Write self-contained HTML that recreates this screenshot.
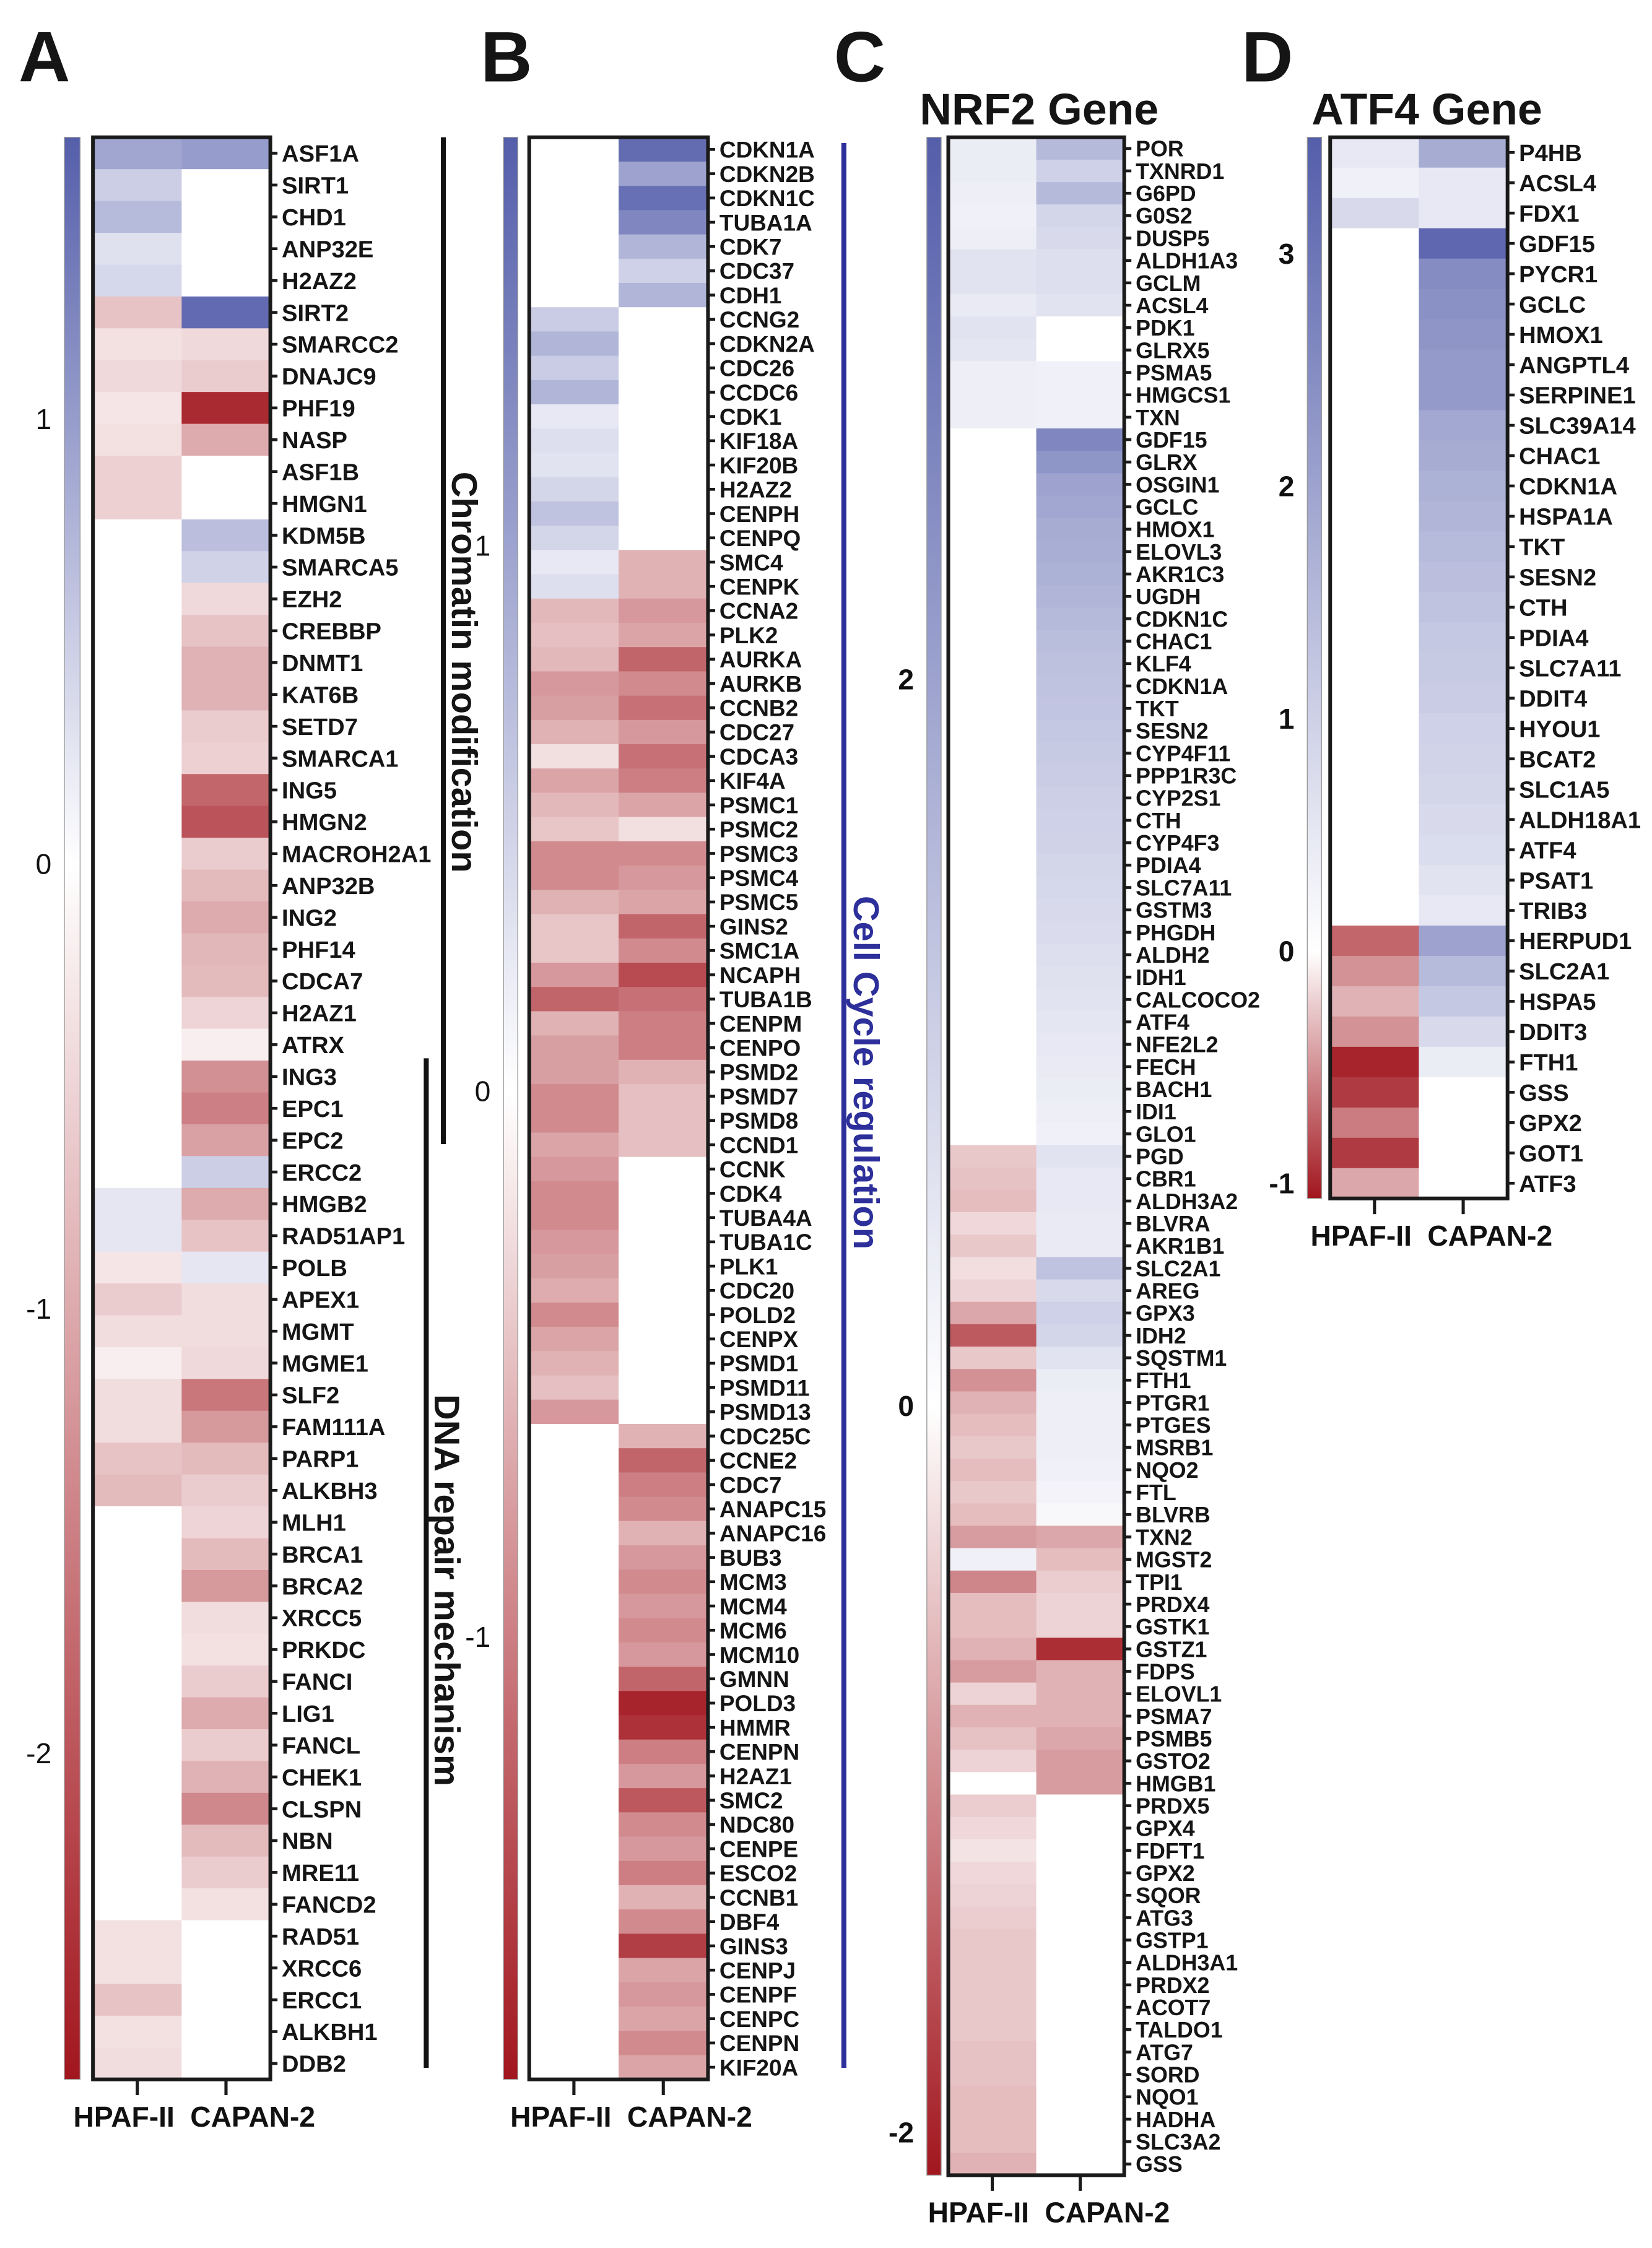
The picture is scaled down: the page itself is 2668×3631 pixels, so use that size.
<!DOCTYPE html>
<html><head><meta charset="utf-8"><style>
html,body{margin:0;padding:0;background:#fff;}
svg{display:block;}
text{font-family:"Liberation Sans",sans-serif;}
</style></head><body>
<svg id="fig" width="2668" height="3631" viewBox="0 0 1155 1571.9" xmlns="http://www.w3.org/2000/svg"></svg>
<script>
// ---------- Panel A data ----------
const genesA = ["ASF1A","SIRT1","CHD1","ANP32E","H2AZ2","SIRT2","SMARCC2","DNAJC9","PHF19","NASP","ASF1B","HMGN1","KDM5B","SMARCA5","EZH2","CREBBP","DNMT1","KAT6B","SETD7","SMARCA1","ING5","HMGN2","MACROH2A1","ANP32B","ING2","PHF14","CDCA7","H2AZ1","ATRX","ING3","EPC1","EPC2","ERCC2","HMGB2","RAD51AP1","POLB","APEX1","MGMT","MGME1","SLF2","FAM111A","PARP1","ALKBH3","MLH1","BRCA1","BRCA2","XRCC5","PRKDC","FANCI","LIG1","FANCL","CHEK1","CLSPN","NBN","MRE11","FANCD2","RAD51","XRCC6","ERCC1","ALKBH1","DDB2"];
const hpafA = [0.9,0.5,0.7,0.3,0.4,-0.7,-0.35,-0.45,-0.3,-0.35,-0.55,-0.55,null,null,null,null,null,null,null,null,null,null,null,null,null,null,null,null,null,null,null,null,null,0.25,0.25,-0.3,-0.6,-0.4,-0.2,-0.4,-0.4,-0.7,-0.8,null,null,null,null,null,null,null,null,null,null,null,null,null,-0.35,-0.35,-0.7,-0.35,-0.4];
const capanA = [1.0,null,null,null,null,1.5,-0.45,-0.6,-2.5,-1.0,null,null,0.65,0.45,-0.45,-0.7,-0.9,-0.9,-0.6,-0.55,-1.8,-2.0,-0.6,-0.8,-1.0,-0.85,-0.8,-0.5,-0.2,-1.3,-1.5,-1.1,0.5,-1.0,-0.7,0.25,-0.4,-0.4,-0.45,-1.6,-1.2,-0.8,-0.6,-0.5,-0.8,-1.2,-0.4,-0.35,-0.6,-1.0,-0.6,-0.9,-1.4,-0.8,-0.6,-0.35,null,null,null,null,null];
const ticksA = [1,0,-1,-2];
// ---------- Panel B data ----------
const genesB = ["CDKN1A","CDKN2B","CDKN1C","TUBA1A","CDK7","CDC37","CDH1","CCNG2","CDKN2A","CDC26","CCDC6","CDK1","KIF18A","KIF20B","H2AZ2","CENPH","CENPQ","SMC4","CENPK","CCNA2","PLK2","AURKA","AURKB","CCNB2","CDC27","CDCA3","KIF4A","PSMC1","PSMC2","PSMC3","PSMC4","PSMC5","GINS2","SMC1A","NCAPH","TUBA1B","CENPM","CENPO","PSMD2","PSMD7","PSMD8","CCND1","CCNK","CDK4","TUBA4A","TUBA1C","PLK1","CDC20","POLD2","CENPX","PSMD1","PSMD11","PSMD13","CDC25C","CCNE2","CDC7","ANAPC15","ANAPC16","BUB3","MCM3","MCM4","MCM6","MCM10","GMNN","POLD3","HMMR","CENPN","H2AZ1","SMC2","NDC80","CENPE","ESCO2","CCNB1","DBF4","GINS3","CENPJ","CENPF","CENPC","CENPN","KIF20A"];
const hpafB = [null,null,null,null,null,null,null,0.55,0.8,0.55,0.8,0.25,0.35,0.3,0.45,0.65,0.45,0.25,0.35,-0.55,-0.5,-0.55,-0.8,-0.75,-0.6,-0.25,-0.7,-0.55,-0.45,-0.9,-0.9,-0.6,-0.45,-0.45,-0.8,-1.2,-0.6,-0.75,-0.75,-0.9,-0.9,-0.7,-0.8,-0.9,-0.9,-0.8,-0.75,-0.65,-0.9,-0.7,-0.6,-0.5,-0.8,null,null,null,null,null,null,null,null,null,null,null,null,null,null,null,null,null,null,null,null,null,null,null,null,null,null,null];
const capanB = [1.6,1.0,1.55,1.3,0.8,0.5,0.8,null,null,null,null,null,null,null,null,null,null,-0.6,-0.6,-0.8,-0.7,-1.2,-0.9,-1.1,-0.8,-1.1,-1.0,-0.7,-0.25,-0.9,-0.8,-0.7,-1.2,-0.9,-1.4,-1.1,-1.0,-1.0,-0.6,-0.5,-0.5,-0.5,null,null,null,null,null,null,null,null,null,null,null,-0.6,-1.2,-1.0,-0.9,-0.6,-0.8,-0.9,-0.8,-0.9,-0.8,-1.2,-1.7,-1.6,-1.0,-0.8,-1.3,-0.9,-0.8,-1.0,-0.6,-0.9,-1.5,-0.7,-0.8,-0.7,-0.9,-0.7];
const ticksB = [1,0,-1];
// ---------- Panel C data ----------
const genesC = ["POR","TXNRD1","G6PD","G0S2","DUSP5","ALDH1A3","GCLM","ACSL4","PDK1","GLRX5","PSMA5","HMGCS1","TXN","GDF15","GLRX","OSGIN1","GCLC","HMOX1","ELOVL3","AKR1C3","UGDH","CDKN1C","CHAC1","KLF4","CDKN1A","TKT","SESN2","CYP4F11","PPP1R3C","CYP2S1","CTH","CYP4F3","PDIA4","SLC7A11","GSTM3","PHGDH","ALDH2","IDH1","CALCOCO2","ATF4","NFE2L2","FECH","BACH1","IDI1","GLO1","PGD","CBR1","ALDH3A2","BLVRA","AKR1B1","SLC2A1","AREG","GPX3","IDH2","SQSTM1","FTH1","PTGR1","PTGES","MSRB1","NQO2","FTL","BLVRB","TXN2","MGST2","TPI1","PRDX4","GSTK1","GSTZ1","FDPS","ELOVL1","PSMA7","PSMB5","GSTO2","HMGB1","PRDX5","GPX4","FDFT1","GPX2","SQOR","ATG3","GSTP1","ALDH3A1","PRDX2","ACOT7","TALDO1","ATG7","SORD","NQO1","HADHA","SLC3A2","GSS"];
const hpafC = [0.4,0.4,0.35,0.3,0.35,0.6,0.6,0.45,0.6,0.55,0.35,0.35,0.35,null,null,null,null,null,null,null,null,null,null,null,null,null,null,null,null,null,null,null,null,null,null,null,null,null,null,null,null,null,null,null,null,-0.5,-0.55,-0.6,-0.35,-0.5,-0.3,-0.4,-0.8,-1.5,-0.5,-1.0,-0.7,-0.6,-0.5,-0.6,-0.5,-0.6,-0.9,0.3,-1.1,-0.6,-0.6,-0.7,-0.9,-0.4,-0.7,-0.55,-0.4,null,-0.45,-0.35,-0.25,-0.35,-0.4,-0.45,-0.5,-0.5,-0.5,-0.5,-0.5,-0.55,-0.55,-0.6,-0.6,-0.6,-0.7];
const capanC = [1.5,1.0,1.5,0.9,0.8,0.7,0.7,0.6,null,null,0.3,0.3,0.3,2.6,2.3,2.0,1.9,1.8,1.75,1.7,1.6,1.5,1.4,1.35,1.3,1.25,1.2,1.15,1.1,1.05,1.0,0.95,0.9,0.85,0.8,0.75,0.7,0.65,0.6,0.55,0.5,0.45,0.4,0.35,0.3,0.6,0.5,0.5,0.45,0.45,1.3,0.8,1.0,0.9,0.6,0.4,0.35,0.35,0.35,0.3,0.25,0.15,-0.8,-0.6,-0.45,-0.4,-0.4,-1.9,-0.7,-0.7,-0.7,-0.8,-0.9,-0.9,null,null,null,null,null,null,null,null,null,null,null,null,null,null,null,null,null];
const ticksC = [2,0,-2];
// ---------- Panel D data ----------
const genesD = ["P4HB","ACSL4","FDX1","GDF15","PYCR1","GCLC","HMOX1","ANGPTL4","SERPINE1","SLC39A14","CHAC1","CDKN1A","HSPA1A","TKT","SESN2","CTH","PDIA4","SLC7A11","DDIT4","HYOU1","BCAT2","SLC1A5","ALDH18A1","ATF4","PSAT1","TRIB3","HERPUD1","SLC2A1","HSPA5","DDIT3","FTH1","GSS","GPX2","GOT1","ATF3"];
const hpafD = [0.5,0.3,0.8,null,null,null,null,null,null,null,null,null,null,null,null,null,null,null,null,null,null,null,null,null,null,null,-0.7,-0.5,-0.35,-0.5,-1.0,-0.9,-0.6,-0.9,-0.4];
const capanD = [1.8,0.5,0.5,3.3,2.5,2.4,2.3,2.2,2.2,1.9,1.8,1.7,1.6,1.5,1.4,1.3,1.2,1.15,1.1,1.0,0.95,0.9,0.8,0.75,0.6,0.5,2.0,1.5,1.2,0.8,0.4,null,null,null,null];
const ticksD = [3,2,1,0,-1];
const samples = ["HPAF-II","CAPAN-2"];

const NS = "http://www.w3.org/2000/svg";
const svg = document.getElementById("fig");
function mk(tag, attrs, parent){
  const e = document.createElementNS(NS, tag);
  for (const k in attrs) e.setAttribute(k, attrs[k]);
  (parent||svg).appendChild(e);
  return e;
}
const BLUE=[84,94,170], RED=[162,22,30];
function color(v, vmax, vmin){
  if (v===null) return "#ffffff";
  let t, c;
  if (v>=0){ t=Math.min(1,v/vmax); c=BLUE; } else { t=Math.min(1,v/vmin); c=RED; }
  const r=Math.round(255+(c[0]-255)*t), g=Math.round(255+(c[1]-255)*t), b=Math.round(255+(c[2]-255)*t);
  return "rgb("+r+","+g+","+b+")";
}

function panel(cfg){
  const g = mk("g", {});
  
  
  const n = cfg.genes.length;
  const rowH = (cfg.bottom - cfg.top)/n;
  const yScale = v => cfg.zeroY - v*cfg.unit;
  const vmax = (cfg.zeroY - cfg.top)/cfg.unit;
  const vmin = -(cfg.bottom - cfg.zeroY)/cfg.unit;
  const defs = mk("defs", {}, g);
  const grad = mk("linearGradient", {id:"grad-"+cfg.name, x1:0,y1:0,x2:0,y2:1}, defs);
  const zf = (cfg.zeroY - cfg.top)/(cfg.bottom - cfg.top);
  mk("stop",{offset:0,"stop-color":"rgb("+BLUE.join(",")+")"},grad);
  mk("stop",{offset:zf,"stop-color":"#ffffff"},grad);
  mk("stop",{offset:1,"stop-color":"rgb("+RED.join(",")+")"},grad);
  const cb = mk("rect",{x:cfg.cbX,y:cfg.top,width:cfg.cbW,height:cfg.bottom-cfg.top,fill:"url(#grad-"+cfg.name+")",stroke:"#9a9a9a","stroke-width":0.6},g);
  
  
  cfg.ticks.forEach(t=>{
    const tx = mk("text",{x:cfg.cbX-9,y:yScale(t)+7,"font-size":20,"text-anchor":"end",fill:"#111","font-weight":cfg.boldTicks?"bold":"normal"},g);
    tx.textContent = t;
    
    
  });
  const colW = (cfg.right - cfg.left)/2;
  [cfg.h, cfg.c].forEach((arr, ci)=>{
    arr.forEach((v, ri)=>{
      const r = mk("rect",{x:cfg.left+ci*colW, y:cfg.top+ri*rowH, width:colW+0.4, height:rowH+0.4, fill:color(v,vmax,vmin)},g);
      
      
    });
  });
  const fr = mk("rect",{x:cfg.left,y:cfg.top,width:cfg.right-cfg.left,height:cfg.bottom-cfg.top,fill:"none",stroke:"#1a1a1a","stroke-width":2.6},g);
  
  
  cfg.genes.forEach((gn, i)=>{
    const cy = cfg.top + (i+0.5)*rowH;
    mk("line",{x1:cfg.right,x2:cfg.right+5,y1:cy,y2:cy,stroke:"#1a1a1a","stroke-width":2},g);
    const tx = mk("text",{x:cfg.right+8,y:cy+cfg.fs*0.36,"font-size":cfg.fs,"font-weight":"bold",fill:"#151515"},g);
    tx.textContent = gn;
    
    
  });
  const mid = (cfg.left + cfg.right)/2;
  samples.forEach((s, ci)=>{
    const cx = cfg.left + (ci+0.5)*colW;
    mk("line",{x1:cx,x2:cx,y1:cfg.bottom,y2:cfg.bottom+11,stroke:"#1a1a1a","stroke-width":2.2},g);
    const tx = mk("text",{x:ci===0?mid-5:mid+6,y:cfg.bottom+33,"font-size":20,"font-weight":"bold","text-anchor":ci===0?"end":"start",fill:"#111"},g);
    tx.textContent = s;
    
    
  });
}

function label(txt, x, y, size, name, extra){
  const t = mk("text", Object.assign({x:x,y:y,"font-size":size,"font-weight":"bold",fill:"#151515"}, extra||{}));
  t.textContent = txt;
  
  
  return t;
}

label("A", 13, 57, 50, "panel-letter-a");
label("B", 336, 57, 50, "panel-letter-b");
label("C", 583, 57, 50, "panel-letter-c");
label("D", 868, 57, 50, "panel-letter-d");
label("NRF2 Gene", 643, 87, 31, "panel-c-title");
label("ATF4 Gene", 917, 87, 31, "panel-d-title");

panel({name:"panel-a-heatmap",genes:genesA,h:hpafA,c:capanA,ticks:ticksA,left:65,right:189,top:96,bottom:1454,cbX:45,cbW:11,zeroY:604,unit:311,fs:16.5});
panel({name:"panel-b-heatmap",genes:genesB,h:hpafB,c:capanB,ticks:ticksB,left:370,right:495,top:96,bottom:1454,cbX:352,cbW:10,zeroY:763,unit:381.5,fs:16});
panel({name:"panel-c-heatmap",genes:genesC,h:hpafC,c:capanC,ticks:ticksC,left:663,right:786,top:96,bottom:1521,cbX:648,cbW:10,zeroY:983,unit:254,fs:15.5,boldTicks:true});
panel({name:"panel-d-heatmap",genes:genesD,h:hpafD,c:capanD,ticks:ticksD,left:930,right:1054,top:96,bottom:838,cbX:914,cbW:10,zeroY:665,unit:162.5,fs:16.5,boldTicks:true});

function vline(x,y1,y2,col,name){
  const l = mk("line",{x1:x,x2:x,y1:y1,y2:y2,stroke:col,"stroke-width":3.5});
  
  
}
vline(310,96,800,"#111","chromatin-bracket");
vline(298,740,1446,"#111","dna-repair-bracket");
vline(590,100,1446,"#2d2f9a","cell-cycle-bracket");
label("Chromatin modification", 316, 470, 25, "chromatin-annotation", {transform:"rotate(90 316 470)","text-anchor":"middle"});
label("DNA repair mechanism", 304, 1112, 25, "dna-repair-annotation", {transform:"rotate(90 304 1112)","text-anchor":"middle"});
label("Cell Cycle regulation", 597, 750, 25, "cell-cycle-annotation", {transform:"rotate(90 597 750)","text-anchor":"middle",fill:"#2d2f9a"});
</script>
</body></html>
